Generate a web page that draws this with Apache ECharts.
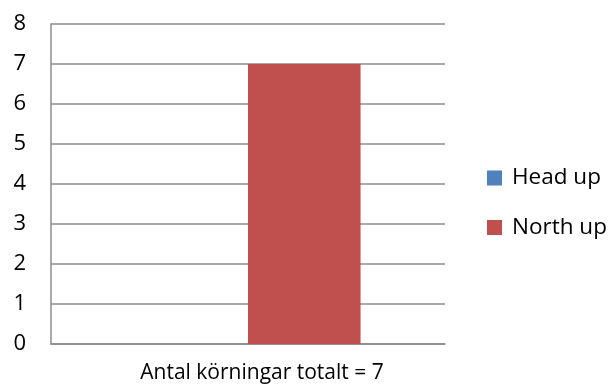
<!DOCTYPE html>
<html>
<head>
<meta charset="utf-8">
<script src="https://cdn.jsdelivr.net/npm/echarts@6/dist/echarts.min.js"></script>
<style>
  html, body { margin: 0; padding: 0; background: #fff; }
  #chart { width: 615px; height: 392px; }
</style>
</head>
<body>
<div id="chart"></div>
<script>
// Chart data
const categories = ['Antal körningar totalt = 7'];
const headUp = [0];
const northUp = [7];
const yTicks = [0, 1, 2, 3, 4, 5, 6, 7, 8];

const FONT = '"Open Sans", "Liberation Sans", sans-serif';
const gridColor = '#8c8c8c';

const chart = echarts.init(document.getElementById('chart'), null, { renderer: 'canvas' });
chart.setOption({
  animation: false,
  backgroundColor: '#ffffff',
  textStyle: { fontFamily: FONT },
  grid: { left: 51, right: 170, top: 24, bottom: 48, containLabel: false },
  legend: {
    orient: 'vertical',
    left: 487,
    top: 166.5,
    padding: 0,
    itemWidth: 15,
    itemHeight: 15,
    itemGap: 26.5,
    icon: 'rect',
    textStyle: { fontFamily: FONT, fontSize: 22.5, color: '#000', lineHeight: 22, padding: [0, 0, 0, 5] },
    data: ['Head up', 'North up']
  },
  xAxis: {
    type: 'category',
    data: categories,
    axisLine: { show: true, lineStyle: { color: gridColor, width: 1.5 } },
    axisTick: { show: false },
    axisLabel: { color: '#000', fontSize: 21, fontFamily: FONT, margin: 19, padding: [0, 0, 0, 28] }
  },
  yAxis: {
    type: 'value',
    min: yTicks[0],
    max: yTicks[yTicks.length - 1],
    interval: 1,
    axisLine: { show: true, lineStyle: { color: gridColor, width: 1.5 } },
    axisTick: { show: false },
    axisLabel: { color: '#000', fontSize: 22, fontFamily: FONT, margin: 25 },
    splitLine: { show: true, lineStyle: { color: gridColor, width: 1.5 } }
  },
  series: [
    {
      name: 'Head up',
      type: 'bar',
      data: headUp,
      barGap: '0%',
      barCategoryGap: '42.86%',
      itemStyle: { color: '#4f81bd' }
    },
    {
      name: 'North up',
      type: 'bar',
      data: northUp,
      barGap: '0%',
      barCategoryGap: '42.86%',
      itemStyle: { color: '#c0504d' }
    }
  ]
});
</script>
</body>
</html>
